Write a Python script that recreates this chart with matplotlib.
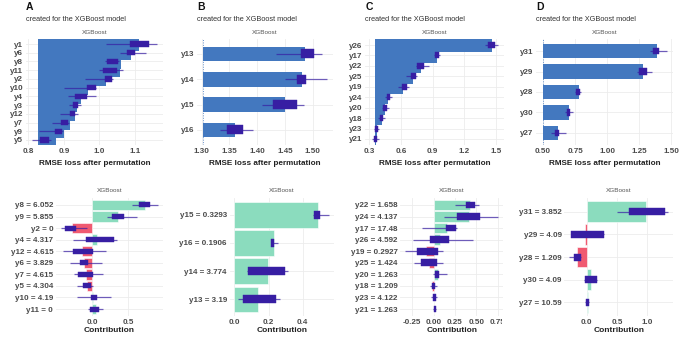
import numpy as np
import matplotlib
matplotlib.use('Agg')
import matplotlib.pyplot as plt
from matplotlib.patches import Rectangle
from matplotlib.transforms import Bbox

# ---------------- data ----------------
# Top row: permutation variable importance (RMSE loss after permutation)
a_vars = ['y1', 'y6', 'y8', 'y11', 'y2', 'y10', 'y4', 'y3', 'y12', 'y7', 'y9', 'y5']
a_loss = [1.110, 1.088, 1.060, 1.058, 1.019, 0.967, 0.949, 0.936, 0.932, 0.918, 0.901, 0.879]
a_q1 = [1.086, 1.076, 1.021, 1.010, 1.015, 0.965, 0.932, 0.925, 0.917, 0.892, 0.875, 0.832]
a_q3 = [1.138, 1.100, 1.053, 1.048, 1.036, 0.991, 0.966, 0.939, 0.930, 0.911, 0.895, 0.859]
a_lo = [1.018, 1.057, 1.015, 0.999, 0.958, 0.901, 0.911, 0.915, 0.890, 0.866, 0.830, 0.811]
a_hi = [1.161, 1.130, 1.055, 1.065, 1.038, 0.991, 0.989, 0.949, 0.939, 0.915, 0.897, 0.863]
a_base = 0.828
a_ticks = [0.8, 0.9, 1.0, 1.1]
a_ticklabels = ['0.8', '0.9', '1.0', '1.1']

b_vars = ['y13', 'y14', 'y15', 'y16']
b_loss = [1.486, 1.481, 1.450, 1.361]
b_q1 = [1.478, 1.471, 1.429, 1.346]
b_q3 = [1.502, 1.487, 1.471, 1.374]
b_lo = [1.433, 1.450, 1.408, 1.333]
b_hi = [1.517, 1.525, 1.484, 1.393]
b_base = 1.303
b_ticks = [1.30, 1.35, 1.40, 1.45, 1.50]
b_ticklabels = ['1.30', '1.35', '1.40', '1.45', '1.50']

c_vars = ['y26', 'y17', 'y22', 'y25', 'y19', 'y24', 'y20', 'y18', 'y23', 'y21']
c_loss = [1.459, 0.938, 0.790, 0.711, 0.622, 0.480, 0.449, 0.417, 0.376, 0.362]
c_q1 = [1.427, 0.922, 0.755, 0.692, 0.607, 0.465, 0.427, 0.401, 0.357, 0.344]
c_q3 = [1.490, 0.960, 0.818, 0.742, 0.654, 0.496, 0.465, 0.433, 0.382, 0.370]
c_lo = [1.396, 0.913, 0.742, 0.648, 0.575, 0.449, 0.418, 0.386, 0.344, 0.323]
c_hi = [1.516, 0.969, 0.868, 0.749, 0.676, 0.518, 0.490, 0.449, 0.395, 0.395]
c_base = 0.354
c_ticks = [0.3, 0.6, 0.9, 1.2, 1.5]
c_ticklabels = ['0.3', '0.6', '0.9', '1.2', '1.5']

d_vars = ['y31', 'y29', 'y28', 'y30', 'y27']
d_loss = [1.393, 1.283, 0.779, 0.704, 0.617]
d_q1 = [1.362, 1.249, 0.761, 0.688, 0.591]
d_q3 = [1.406, 1.315, 0.792, 0.714, 0.625]
d_lo = [1.335, 1.231, 0.748, 0.670, 0.565]
d_hi = [1.466, 1.349, 0.800, 0.735, 0.683]
d_base = 0.497
d_ticks = [0.50, 0.75, 1.00, 1.25, 1.50]
d_ticklabels = ['0.50', '0.75', '1.00', '1.25', '1.50']

# Bottom row: contributions
ab_labels = ['y8 = 6.052', 'y9 = 5.855', 'y2 = 0', 'y4 = 4.317', 'y12 = 4.615',
             'y6 = 3.829', 'y7 = 4.615', 'y5 = 4.304', 'y10 = 4.19', 'y11 = 0']
ab_mean = [0.731, 0.361, -0.287, 0.069, -0.148, -0.111, -0.088, -0.069, 0.014, 0.046]
ab_q1 = [0.653, 0.269, -0.380, -0.088, -0.273, -0.171, -0.194, -0.125, -0.023, -0.032]
ab_q3 = [0.801, 0.440, -0.227, 0.301, 0.014, -0.056, 0.014, -0.023, 0.060, 0.093]
ab_lo = [0.546, 0.199, -0.435, -0.264, -0.403, -0.310, -0.255, -0.208, -0.208, -0.056]
ab_hi = [0.917, 0.616, -0.069, 0.338, 0.190, 0.130, 0.144, 0.005, 0.255, 0.153]
ab_ticks = [0.0, 0.5]
ab_ticklabels = ['0.0', '0.5']

bb_labels = ['y15 = 0.3293', 'y16 = 0.1906', 'y14 = 3.774', 'y13 = 3.19']
bb_mean = [0.488, 0.229, 0.199, 0.141]
bb_q1 = [0.467, 0.215, 0.078, 0.049]
bb_q3 = [0.498, 0.229, 0.297, 0.244]
bb_lo = [0.462, 0.213, 0.072, 0.023]
bb_hi = [0.555, 0.258, 0.316, 0.268]
bb_ticks = [0.0, 0.2, 0.4]
bb_ticklabels = ['0.0', '0.2', '0.4']

cb_labels = ['y22 = 1.658', 'y24 = 4.137', 'y17 = 17.48', 'y26 = 4.592', 'y19 = 0.2927',
             'y25 = 1.424', 'y20 = 1.263', 'y18 = 1.209', 'y23 = 4.122', 'y21 = 1.263']
cb_mean = [0.426, 0.418, 0.160, 0.074, -0.094, -0.051, 0.055, -0.016, 0.008, 0.008]
cb_q1 = [0.379, 0.277, 0.145, -0.043, -0.191, -0.152, 0.016, -0.023, -0.012, 0.000]
cb_q3 = [0.484, 0.543, 0.262, 0.184, 0.055, 0.043, 0.063, 0.016, 0.023, 0.023]
cb_lo = [0.250, 0.121, -0.141, -0.238, -0.336, -0.230, -0.004, -0.043, -0.035, -0.008]
cb_hi = [0.535, 0.758, 0.277, 0.465, 0.113, 0.113, 0.160, 0.035, 0.043, 0.031]
cb_ticks = [-0.25, 0.0, 0.25, 0.50, 0.75]
cb_ticklabels = ['-0.25', '0.00', '0.25', '0.50', '0.75']

db_labels = ['y31 = 3.852', 'y29 = 4.09', 'y28 = 1.209', 'y30 = 4.09', 'y27 = 10.59']
db_mean = [0.978, -0.027, -0.165, 0.071, 0.016]
db_q1 = [0.703, -0.258, -0.209, -0.027, -0.011]
db_q3 = [1.291, 0.286, -0.099, 0.176, 0.033]
db_lo = [0.505, -0.258, -0.286, -0.044, -0.022]
db_hi = [1.346, 0.286, -0.099, 0.176, 0.044]
db_ticks = [0.0, 0.5, 1.0]
db_ticklabels = ['0.0', '0.5', '1.0']

panel_tags = ['A', 'B', 'C', 'D']
subtitle = 'created for the XGBoost model'
strip_label = 'XGBoost'
top_xlabel = 'RMSE loss after permutation'
bottom_xlabel = 'Contribution'

# ---------------- style ----------------
plt.rcParams['font.family'] = ['Liberation Sans', 'DejaVu Sans']
BLUE = '#4378bf'
PURPLE = '#371ea3'
GREEN = '#8bdcbe'
RED = '#f05a71'
TXT = '#4a4a4a'
GRID = '#ececec'

W, H = 685, 340
fig = plt.figure(figsize=(W / 100, H / 100), dpi=100)
fig.patch.set_facecolor('white')


def px_axes(l, t, r, b):
    return fig.add_axes([l / W, 1 - b / H, (r - l) / W, (b - t) / H])


def ftext(x, y, s, **kw):
    fig.text(x / W, 1 - y / H, s, **kw)


def expand(lo, hi, f=0.05):
    d = hi - lo
    return lo - f * d, hi + f * d


def style_axes(ax, n, ticks, ticklabels, labels, xlim):
    ax.set_xlim(*xlim)
    ax.set_ylim(0.4, n + 0.6)
    ax.set_xticks(ticks)
    ax.set_xticklabels(ticklabels)
    ax.set_yticks(np.arange(n, 0, -1))
    ax.set_yticklabels(labels)
    for s in ax.spines.values():
        s.set_visible(False)
    ax.tick_params(length=0, pad=2.0, labelsize=5.8, labelcolor=TXT)
    for lab in ax.get_xticklabels() + ax.get_yticklabels():
        lab.set_fontweight('bold')
    ax.set_axisbelow(True)
    ax.grid(True, color=GRID, lw=0.6)


def px_to_data_h(ax, px, n):
    bbox = ax.get_position()
    ax_px = bbox.height * H
    return px * (n + 0.2) / ax_px


def draw_boxes(ax, y, q1, q3, lo, hi, bh):
    ax.hlines(y, lo, hi, color=PURPLE, alpha=0.7, lw=0.9, zorder=4)
    for yi, a, b in zip(y, q1, q3):
        ax.add_patch(Rectangle((a, yi - bh / 2), b - a, bh, facecolor=PURPLE,
                               edgecolor=PURPLE, lw=0.3, zorder=5))


def top_panel(rect, vars_, loss, q1, q3, lo, hi, base, ticks, ticklabels, box_px):
    ax = px_axes(*rect)
    n = len(vars_)
    y = np.arange(n, 0, -1)
    xlim = expand(min(min(lo), base), max(max(hi), max(loss)))
    style_axes(ax, n, ticks, ticklabels, vars_, xlim)
    bar_h = px_to_data_h(ax, 14.5, n)
    ax.axvline(base, ls=(0, (1, 1.5)), color=BLUE, lw=0.7, alpha=0.8, zorder=1)
    for yi, v in zip(y, loss):
        ax.barh(yi, v - base, left=base, height=bar_h, color=BLUE, lw=0, zorder=2)
    draw_boxes(ax, y, q1, q3, lo, hi, px_to_data_h(ax, box_px, n))
    return ax


def bottom_panel(rect, labels, mean, q1, q3, lo, hi, ticks, ticklabels, box_px):
    ax = px_axes(*rect)
    n = len(labels)
    y = np.arange(n, 0, -1)
    xlim = expand(min(min(lo), 0), max(max(hi), 0))
    style_axes(ax, n, ticks, ticklabels, labels, xlim)
    colors = [GREEN if m >= 0 else RED for m in mean]
    ax.barh(y, mean, height=0.9, color=colors, edgecolor='white', lw=0.4, zorder=2)
    draw_boxes(ax, y, q1, q3, lo, hi, px_to_data_h(ax, box_px, n))
    return ax


TOP_T, TOP_B = 38.8, 145.2
BOT_T, BOT_B = 198.0, 316.0

top_rects = [(26, TOP_T, 163, TOP_B), (197, TOP_T, 333, TOP_B),
             (365.4, TOP_T, 504, TOP_B), (536.4, TOP_T, 673, TOP_B)]
bot_rects = [(56, BOT_T, 163.2, BOT_B), (229.6, BOT_T, 334, BOT_B),
             (400.3, BOT_T, 503, BOT_B), (564.4, BOT_T, 673.4, BOT_B)]

tops = [
    (a_vars, a_loss, a_q1, a_q3, a_lo, a_hi, a_base, a_ticks, a_ticklabels, 5.3),
    (b_vars, b_loss, b_q1, b_q3, b_lo, b_hi, b_base, b_ticks, b_ticklabels, 9.0),
    (c_vars, c_loss, c_q1, c_q3, c_lo, c_hi, c_base, c_ticks, c_ticklabels, 6.0),
    (d_vars, d_loss, d_q1, d_q3, d_lo, d_hi, d_base, d_ticks, d_ticklabels, 6.7),
]
bots = [
    (ab_labels, ab_mean, ab_q1, ab_q3, ab_lo, ab_hi, ab_ticks, ab_ticklabels, 5.0),
    (bb_labels, bb_mean, bb_q1, bb_q3, bb_lo, bb_hi, bb_ticks, bb_ticklabels, 8.3),
    (cb_labels, cb_mean, cb_q1, cb_q3, cb_lo, cb_hi, cb_ticks, cb_ticklabels, 6.7),
    (db_labels, db_mean, db_q1, db_q3, db_lo, db_hi, db_ticks, db_ticklabels, 7.0),
]

for i in range(4):
    rect = top_rects[i]
    top_panel(rect, *tops[i])
    l, t, r, b = rect
    cx = (l + r) / 2
    ftext(l, 7.5, panel_tags[i], fontsize=7.5, fontweight='bold', color='#111111',
          ha='left', va='center')
    ftext(l, 19.3, subtitle, fontsize=5.3, color='#333333', ha='left', va='center')
    ftext(cx, 32.5, strip_label, fontsize=4.6, color='#555555', ha='center', va='center')
    ftext(cx, 163, top_xlabel, fontsize=5.9, fontweight='bold', color='#222222',
          ha='center', va='center')

    rect = bot_rects[i]
    ax = bottom_panel(rect, *bots[i])
    l, t, r, b = rect
    cx = (l + r) / 2
    ftext(cx, 190.7, strip_label, fontsize=4.6, color='#555555', ha='center', va='center')
    ftext(cx, 330.7, bottom_xlabel, fontsize=6.0, fontweight='bold', color='#222222',
          ha='center', va='center')
    if i == 2:
        clip = Bbox.from_extents(0, 0, 501.5, H)
        for lab in ax.get_xticklabels():
            lab.set_clip_box(clip)
            lab.set_clip_on(True)

fig.savefig('out.png', dpi=100, facecolor='white')
